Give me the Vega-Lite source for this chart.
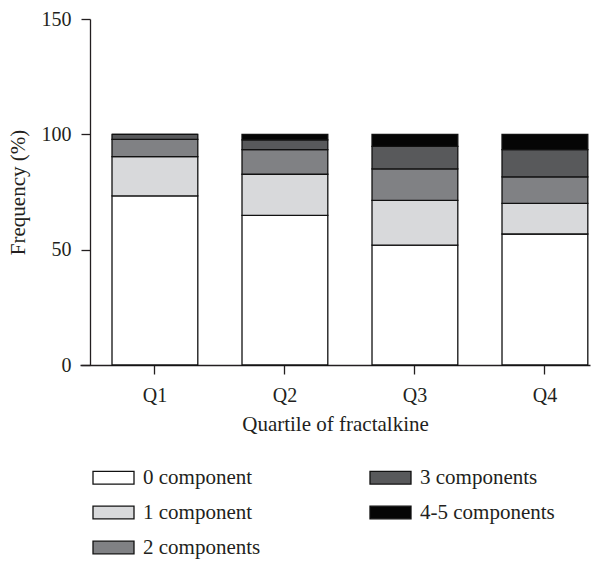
{
  "$schema": "https://vega.github.io/schema/vega-lite/v6.json",
  "autosize": "none",
  "padding": {"left": 80, "top": 19, "right": 15, "bottom": 200},
  "width": 510,
  "height": 346,
  "background": "white",
  "config": {
    "view": {"stroke": null},
    "font": "Liberation Serif",
    "axis": {"labelFont": "Liberation Serif", "titleFont": "Liberation Serif", "labelColor": "#231f20", "titleColor": "#231f20", "domainColor": "#231f20", "tickColor": "#231f20", "grid": false, "domainWidth": 1.3, "tickWidth": 1.3, "tickSize": 9, "labelFontSize": 20, "titleFontSize": 21, "titleFontWeight": "normal"},
    "legend": {"labelFont": "Liberation Serif", "labelFontSize": 21, "labelColor": "#231f20"}
  },
  "data": {
    "values": [
      {"q": "Q1", "comp": "0 component", "k": 0, "v": 73.3},
      {"q": "Q1", "comp": "1 component", "k": 1, "v": 17.0},
      {"q": "Q1", "comp": "2 components", "k": 2, "v": 7.5},
      {"q": "Q1", "comp": "3 components", "k": 3, "v": 2.2},
      {"q": "Q1", "comp": "4-5 components", "k": 4, "v": 0},
      {"q": "Q2", "comp": "0 component", "k": 0, "v": 64.9},
      {"q": "Q2", "comp": "1 component", "k": 1, "v": 17.8},
      {"q": "Q2", "comp": "2 components", "k": 2, "v": 10.7},
      {"q": "Q2", "comp": "3 components", "k": 3, "v": 4.2},
      {"q": "Q2", "comp": "4-5 components", "k": 4, "v": 2.4},
      {"q": "Q3", "comp": "0 component", "k": 0, "v": 52.0},
      {"q": "Q3", "comp": "1 component", "k": 1, "v": 19.4},
      {"q": "Q3", "comp": "2 components", "k": 2, "v": 13.6},
      {"q": "Q3", "comp": "3 components", "k": 3, "v": 9.8},
      {"q": "Q3", "comp": "4-5 components", "k": 4, "v": 5.2},
      {"q": "Q4", "comp": "0 component", "k": 0, "v": 56.8},
      {"q": "Q4", "comp": "1 component", "k": 1, "v": 13.3},
      {"q": "Q4", "comp": "2 components", "k": 2, "v": 11.5},
      {"q": "Q4", "comp": "3 components", "k": 3, "v": 11.8},
      {"q": "Q4", "comp": "4-5 components", "k": 4, "v": 6.6}
    ]
  },
  "mark": {"type": "bar", "stroke": "#111111", "strokeWidth": 1.3},
  "encoding": {
    "x": {
      "field": "q", "type": "nominal", "title": "Quartile of fractalkine",
      "scale": {"paddingInner": 0.34, "paddingOuter": 0.1315, "align": 0.936},
      "axis": {"labelAngle": 0, "labelPadding": 11, "titlePadding": 8}
    },
    "y": {
      "field": "v", "type": "quantitative", "stack": "zero", "title": "Frequency (%)",
      "scale": {"domain": [0, 150], "nice": false},
      "axis": {"values": [0, 50, 100, 150], "offset": -10, "labelPadding": 10, "titlePadding": 13}
    },
    "order": {"field": "k", "type": "quantitative"},
    "fill": {
      "field": "comp", "type": "nominal",
      "scale": {
        "domain": ["0 component", "1 component", "2 components", "3 components", "4-5 components"],
        "range": ["#ffffff", "#d8d9db", "#808184", "#58595b", "#050505"]
      },
      "legend": {
        "title": null, "orient": "none", "legendX": 12, "legendY": 437, "columns": 2,
        "symbolType": "M-1,-0.31H1V0.31H-1Z", "symbolSize": 1681, "symbolStrokeColor": "#111111", "symbolStrokeWidth": 1.3,
        "symbolOpacity": 1, "labelOffset": 8, "columnPadding": 106, "rowPadding": 3
      }
    }
  }
}
